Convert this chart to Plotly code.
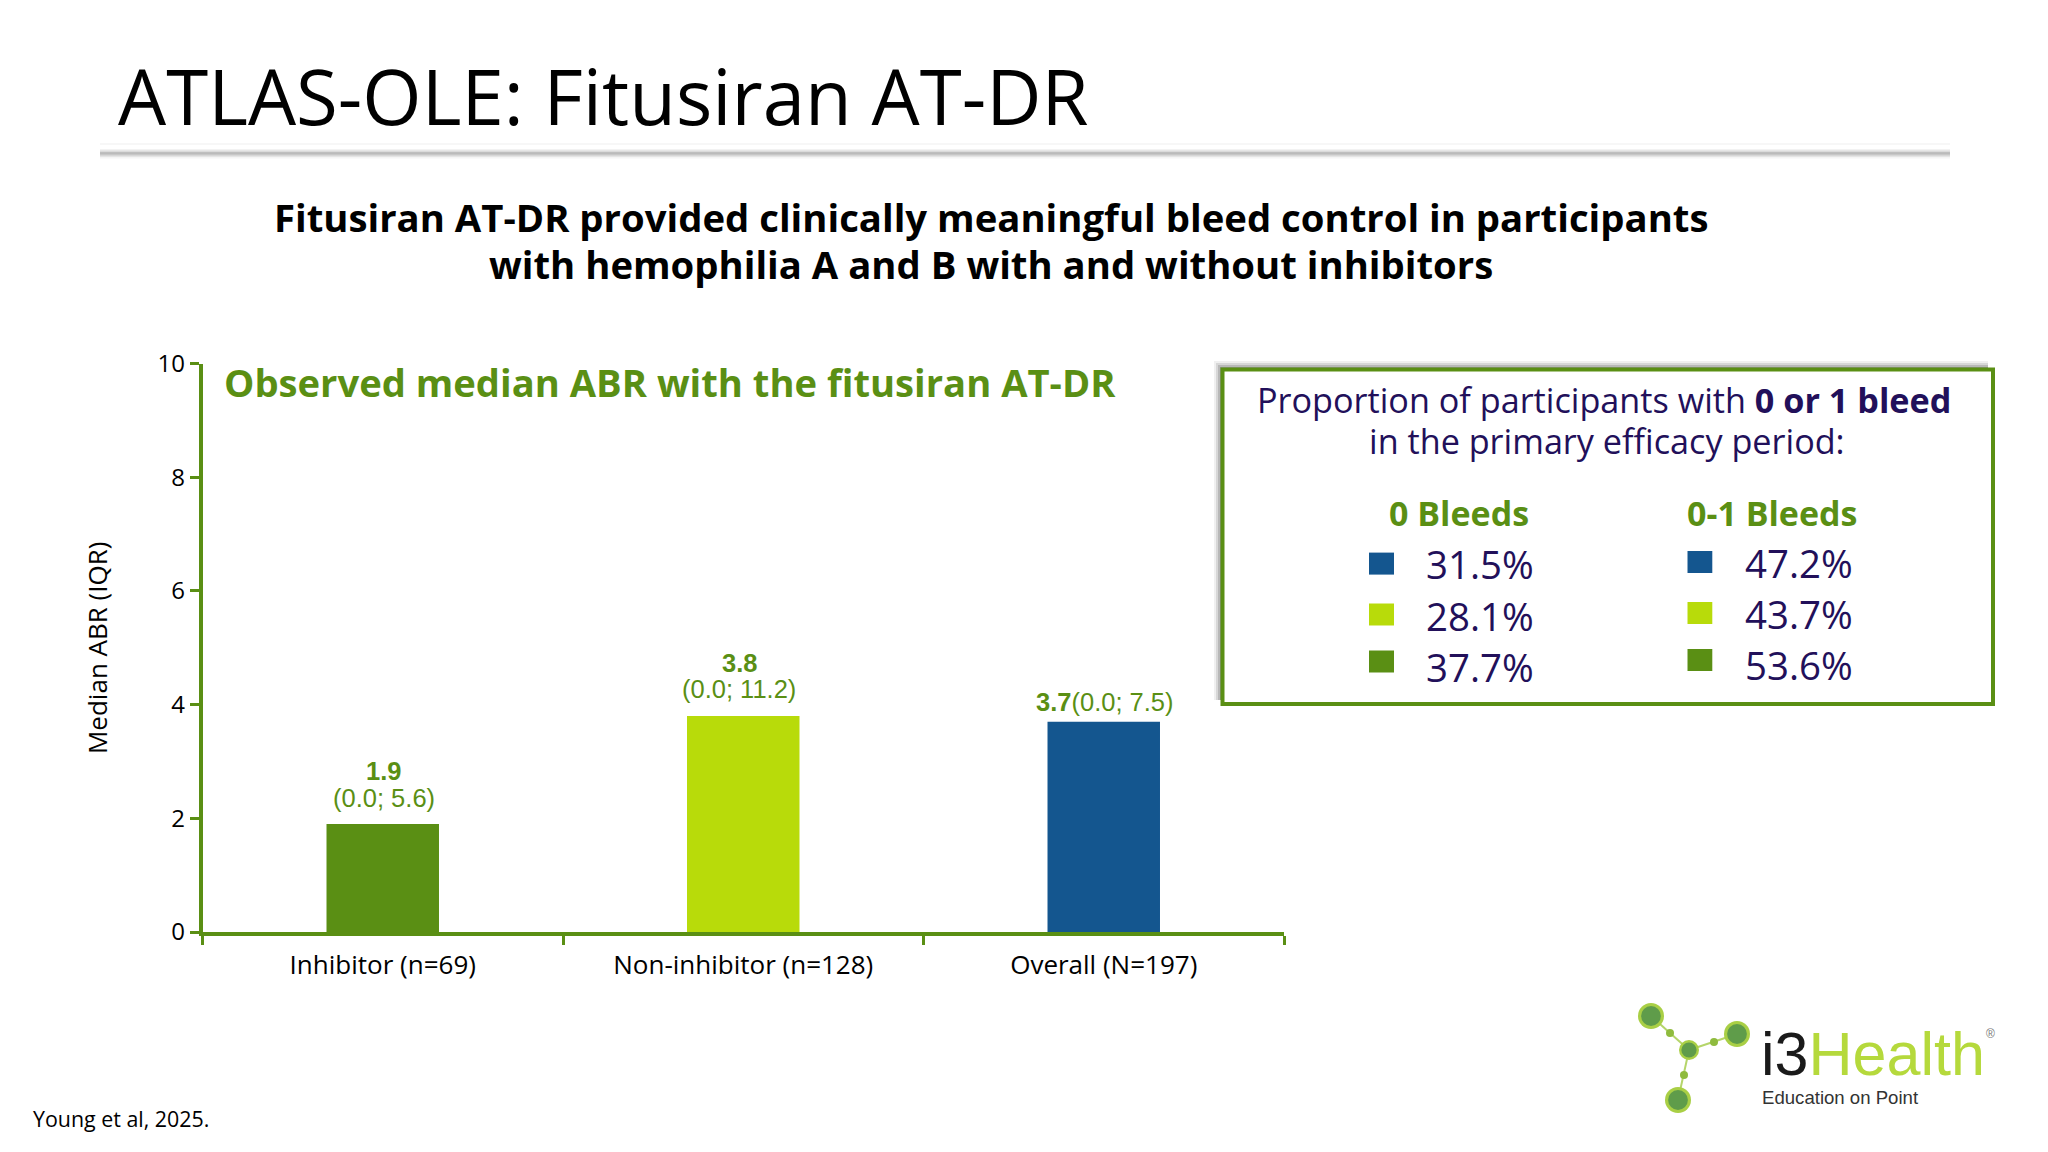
import plotly.graph_objects as go

W = 2048
H = 1152

GREEN = '#5a8f14'
LIME = '#b8db0a'
BLUE = '#14568f'
PURPLE = '#22105a'

categories = ['Inhibitor (n=69)', 'Non-inhibitor (n=128)', 'Overall (N=197)']
median_abr = [1.9, 3.8, 3.7]
value_labels = ['1.9', '3.8', '3.7']
iqr_labels = ['(0.0; 5.6)', '(0.0; 11.2)', '(0.0; 7.5)']
bar_colors = [GREEN, LIME, BLUE]
y_ticks = [0, 2, 4, 6, 8, 10]

bleeds_0 = ['31.5%', '28.1%', '37.7%']
bleeds_01 = ['47.2%', '43.7%', '53.6%']
bleed_colors = [BLUE, LIME, GREEN]


def px(x):
    return x / W

def py(y):
    return 1 - y / H

def label(x, y, text, size, color='black', family='Open Sans', xanchor='center', textangle=0):
    fig.add_annotation(x=px(x), y=py(y), xref='paper', yref='paper', text=text, showarrow=False,
                       xanchor=xanchor, yanchor='middle', align='center', textangle=textangle,
                       font=dict(size=size, color=color, family=family))

def bar_label(i, text, yshift, xshift=0):
    fig.add_annotation(x=categories[i], y=median_abr[i], text=text, showarrow=False, yanchor='middle',
                       xshift=xshift, yshift=yshift, font=dict(size=25.5, color=GREEN, family='Liberation Sans'))

def rect(x0, y0, x1, y1, fill=None, line=None, width=0, layer='above'):
    fig.add_shape(type='rect', xref='paper', yref='paper', x0=px(x0), x1=px(x1), y0=py(y0), y1=py(y1),
                  fillcolor=fill, line=dict(color=line, width=width), layer=layer)

def dot(x, y, r, fill):
    fig.add_shape(type='circle', xref='paper', yref='paper', x0=px(x-r), x1=px(x+r), y0=py(y-r), y1=py(y+r),
                  fillcolor=fill, line=dict(width=0), layer='above')

def link(x0, y0, x1, y1):
    fig.add_shape(type='line', xref='paper', yref='paper', x0=px(x0), x1=px(x1), y0=py(y0), y1=py(y1),
                  line=dict(color='#b5d56a', width=2), layer='above')


fig = go.Figure()

fig.add_trace(go.Bar(x=categories, y=median_abr, width=0.312, marker=dict(color=bar_colors, line=dict(width=0)),
                     cliponaxis=False, showlegend=False))

fig.update_layout(
    width=W,
    height=H,
    margin=dict(l=0, r=0, t=0, b=0),
    paper_bgcolor='white',
    plot_bgcolor='white',
    font=dict(family='Open Sans', color='black'),
    xaxis=dict(domain=[px(202.5), px(1284)], range=[-0.5, 2.5], type='category', tickson='boundaries', ticks='outside',
               ticklen=9, tickwidth=3, tickcolor=GREEN, showline=True, linecolor=GREEN, linewidth=3.5, automargin=False,
               showgrid=False, ticklabelstandoff=7, tickfont=dict(size=26, family='Open Sans', color='black')),
    yaxis=dict(domain=[py(932), py(363.5)], range=[0, 10], tickvals=y_ticks, ticks='outside', ticklen=9, tickwidth=3,
               tickcolor=GREEN, showline=True, linecolor=GREEN, linewidth=3.5, showgrid=False, zeroline=False, automargin=False,
               tickfont=dict(size=24, family='Open Sans', color='black'),
               title=dict(text='Median ABR (IQR)', font=dict(size=26, family='Open Sans', color='black'), standoff=43)),
)

# labels over the bars, the last one sits on a single line
bar_label(0, '<b>' + value_labels[0] + '</b>', 53, 1)
bar_label(0, iqr_labels[0], 26, 1)
bar_label(1, '<b>' + value_labels[1] + '</b>', 53, -4)
bar_label(1, iqr_labels[1], 27, -4)
bar_label(2, '<b>' + value_labels[2] + '</b>' + iqr_labels[2], 20, 1)

# title + rule under it
label(115.5, 95, 'ATLAS-OLE: Fitusiran AT-DR', 76.2, xanchor='left')
rect(100, 143, 1950, 145, fill='rgba(0,0,0,0.03)')
for i, col in enumerate(['rgba(0,0,0,0.05)', 'rgba(0,0,0,0.14)', 'rgba(0,0,0,0.3)', 'rgba(0,0,0,0.22)', 'rgba(0,0,0,0.1)', 'rgba(0,0,0,0.04)']):
    rect(100, 149 + i * 1.6, 1950, 150.6 + i * 1.6, fill=col)

label(991, 217, '<b>Fitusiran AT-DR provided clinically meaningful bleed control in participants</b>', 38.3)
label(991, 264, '<b>with hemophilia A and B with and without inhibitors</b>', 38.3)

label(222, 381.5, '<b>Observed median ABR with the fitusiran AT-DR</b>', 38.2, color=GREEN, xanchor='left')

# box with soft shadow
for i, col in enumerate(['rgba(0,0,0,0.06)', 'rgba(0,0,0,0.1)', 'rgba(0,0,0,0.14)', 'rgba(0,0,0,0.18)']):
    rect(1214 + i * 2, 361 + i * 2, 1988, 700, fill=col)
rect(1222.5, 369.6, 1993, 704, fill='white', line=GREEN, width=4)

label(1604, 399.7, 'Proportion of participants with <b>0 or 1 bleed</b>', 34.2, color=PURPLE)
label(1607, 440.5, 'in the primary efficacy period:', 34.2, color=PURPLE)

label(1459, 513, '<b>0 Bleeds</b>', 34, color=GREEN)
label(1772, 513, '<b>0-1 Bleeds</b>', 34, color=GREEN)

col0_y = [563.6, 614.5, 661.5]
col1_y = [562, 613, 660]
text0_y = [564, 616, 667]
text1_y = [563, 614, 665]
for i in range(3):
    rect(1369, col0_y[i] - 11, 1394, col0_y[i] + 11, fill=bleed_colors[i])
    label(1480, text0_y[i], bleeds_0[i], 38.4, color=PURPLE)
    rect(1687.5, col1_y[i] - 11, 1712.3, col1_y[i] + 11, fill=bleed_colors[i])
    label(1798.5, text1_y[i], bleeds_01[i], 38.4, color=PURPLE)

label(30.5, 1118, 'Young et al, 2025.', 21.4, xanchor='left')

# logo
link(1651, 1016, 1689, 1050)
link(1737, 1034, 1689, 1050)
link(1689, 1050, 1678, 1100)
for x, y, r in [(1651, 1016, 13), (1737, 1034, 13), (1689, 1050, 10), (1678, 1100, 13)]:
    dot(x, y, r, '#a9cf45')
    dot(x, y, r * 0.76, '#5f9c4a')
for x, y, r in [(1670, 1033, 4), (1714, 1042, 4), (1684, 1075, 4)]:
    dot(x, y, r, '#8fbb3e')
label(1759, 1054, '<span style="color:#1a1a1a">i3</span><span style="color:#b5d93c">Health</span>', 61,
      family='Liberation Sans', xanchor='left')
label(1990, 1034, '®', 12, color='#777777', family='Liberation Sans')
label(1760, 1097, 'Education on Point', 18.6, color='#333333', family='Liberation Sans', xanchor='left')

fig.write_html("out.html", config={'displayModeBar': False}, post_script="document.body.style.margin='0';")
